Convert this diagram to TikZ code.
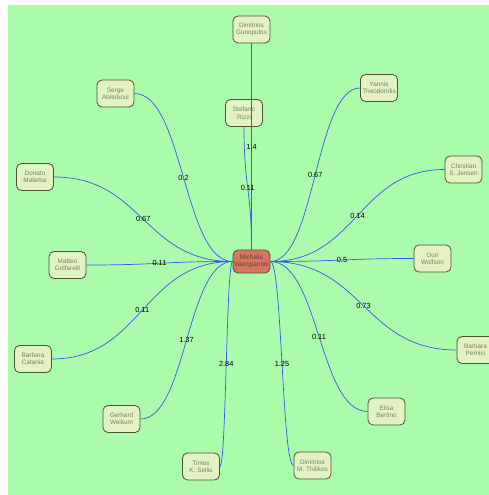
\documentclass[tikz,border=0pt]{standalone}
\usepackage{fontspec}
\setmainfont{Liberation Sans}
\usetikzlibrary{calc}

\definecolor{meadow}{RGB}{170,252,170}
\definecolor{paper}{RGB}{226,242,192}
\definecolor{rim}{RGB}{78,80,58}
\definecolor{salmon}{RGB}{214,118,98}
\definecolor{wire}{RGB}{58,88,232}
\definecolor{inkgray}{RGB}{125,128,100}

% curved coauthor edge, label at the middle
\newcommand{\coauthor}[3]{%
	\draw[edge] let \p1=(#1), \p2=(#2), \n1={(\x2-\x1)/2}, \n2={(\x1-\x2)/2} in
		(\p1) .. controls +(\n1,0) and +(\n2,0) .. (\p2) node[weight] {#3};}

\begin{document}
\begin{tikzpicture}[x=1pt,y=-1pt,
	person/.style={draw=rim,line width=0.8pt,fill=paper,rounded corners=5pt,
		minimum width=37pt,minimum height=27pt,inner sep=0pt,align=center,
		text=inkgray,font=\fontsize{6.4}{7.4}\selectfont},
	hub/.style={person,fill=salmon,minimum height=23pt,text=rim!60!salmon!70!black},
	edge/.style={draw=wire,line width=0.7pt},
	weight/.style={midway,inner sep=0pt,font=\fontsize{7.4}{8}\selectfont}]
	\useasboundingbox (0,0) rectangle (489,495);
	\clip (0,0) rectangle (489,495);
	\fill[meadow] (8,5) rectangle (489,495);

	% authors
	\node[hub] (vazirgiannis) at (251.5,261.5) {Michalis\\Vazirgiannis};
	\node[person] (gunopulos) at (251.5,29.5) {Dimitrios\\Gunopulos};
	\node[person] (rizzi) at (244,113) {Stefano\\Rizzi};
	\node[person] (abiteboul) at (115.5,93.5) {Serge\\Abiteboul};
	\node[person] (malerba) at (35,177) {Donato\\Malerba};
	\node[person] (golfarelli) at (67.5,265) {Matteo\\Golfarelli};
	\node[person] (catania) at (33,359) {Barbara\\Catania};
	\node[person] (weikum) at (121.5,419) {Gerhard\\Weikum};
	\node[person] (sellis) at (201,466.5) {Timos\\K. Sellis};
	\node[person] (thilikos) at (312.5,465.5) {Dimitrios\\M. Thilikos};
	\node[person] (bertino) at (386.5,411.5) {Elisa\\Bertino};
	\node[person] (pernici) at (475.5,350) {Barbara\\Pernici};
	\node[person] (wolfson) at (432.5,258.5) {Ouri\\Wolfson};
	\node[person] (jensen) at (463.5,169.5) {Christian\\S. Jensen};
	\node[person] (theodoridis) at (379,88) {Yannis\\Theodoridis};

	% links
	\draw[edge] (gunopulos.south) -- (vazirgiannis.north) node[weight] {1.4};
	\draw[edge] (rizzi.south) .. controls +(0,61.5) and +(0,-61.5) .. (vazirgiannis.north) node[weight] {0.11};
	\coauthor{abiteboul.east}{vazirgiannis.west}{0.2}
	\coauthor{malerba.east}{vazirgiannis.west}{0.67}
	\coauthor{golfarelli.east}{vazirgiannis.west}{0.11}
	\coauthor{catania.east}{vazirgiannis.west}{0.11}
	\coauthor{weikum.east}{vazirgiannis.west}{1.37}
	\coauthor{sellis.east}{vazirgiannis.west}{2.84}
	\coauthor{thilikos.west}{vazirgiannis.east}{1.25}
	\coauthor{bertino.west}{vazirgiannis.east}{0.11}
	\coauthor{pernici.west}{vazirgiannis.east}{0.73}
	\coauthor{wolfson.west}{vazirgiannis.east}{0.5}
	\coauthor{jensen.west}{vazirgiannis.east}{0.14}
	\coauthor{theodoridis.west}{vazirgiannis.east}{0.67}
\end{tikzpicture}
\end{document}
